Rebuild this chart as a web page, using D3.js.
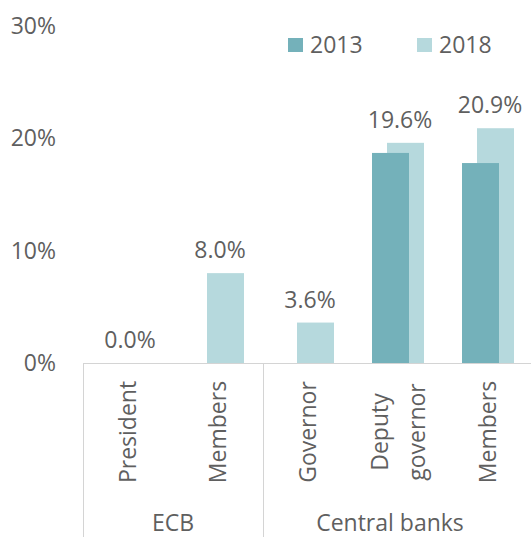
<!DOCTYPE html>
<html>
<head>
<meta charset="utf-8">
<script src="https://cdn.jsdelivr.net/npm/d3@7"></script>
<style>
  body { margin: 0; background: #fff; }
  text { font-family: "Open Sans", sans-serif; fill: #5f5f5f; }
</style>
</head>
<body>
<div id="chart"></div>
<script>
// data
const categories = ["President", "Members (ECB)", "Governor", "Deputy governor", "Members (CB)"];
const categoryLabels = [["President"], ["Members"], ["Governor"], ["Deputy", "governor"], ["Members"]];
const groups = ["ECB", "Central banks"];
const groupSizes = [2, 3];
const series = ["2013", "2018"];
const values2013 = [0, 0, 0, 18.7, 17.8];
const values2018 = [0.0, 8.0, 3.6, 19.6, 20.9];
const yTicks = [0, 10, 20, 30];

const width = 531, height = 537;
const margin = {top: 26, right: -2, bottom: 174, left: 83};
const colors = {"2013": "#74b1ba", "2018": "#b6d9dd"};
const fontSize = 23;

const svg = d3.select("#chart")
    .append("svg")
    .attr("width", width)
    .attr("height", height);

const x = d3.scaleBand()
    .domain(categories)
    .range([margin.left, width - margin.right])
    .padding(0);

const y = d3.scaleLinear()
    .domain([0, 30])
    .range([height - margin.bottom, margin.top]);

// bars overlap: 2013 in front, 2018 shifted right behind it
const offset = d3.scaleOrdinal().domain(series).range([-26, -11]);
const barWidth = 37;

const rows = categories.map((c, i) => ({cat: c, "2013": values2013[i], "2018": values2018[i]}));

// y axis
svg.append("g")
    .attr("transform", `translate(${margin.left},0)`)
    .call(d3.axisLeft(y).tickValues(yTicks).tickSize(0).tickPadding(27).tickFormat(d => d + "%"))
    .call(g => g.select(".domain").remove())
    .selectAll("text")
    .style("font-family", "'Open Sans', sans-serif")
    .style("font-size", fontSize + "px")
    .attr("fill", "#5f5f5f");

// bars: draw 2018 first so 2013 sits on top
["2018", "2013"].forEach(s => {
    svg.append("g").selectAll("rect")
        .data(rows)
        .join("rect")
        .attr("x", d => x(d.cat) + x.bandwidth() / 2 + offset(s))
        .attr("y", d => y(d[s]))
        .attr("width", barWidth)
        .attr("height", d => y(0) - y(d[s]))
        .attr("fill", colors[s]);
});

// value labels for 2018
svg.append("g").selectAll("text")
    .data(rows)
    .join("text")
    .attr("x", d => x(d.cat) + x.bandwidth() / 2 + 2)
    .attr("y", d => y(d["2018"]) - 15)
    .attr("text-anchor", "middle")
    .style("font-size", fontSize + "px")
    .text(d => d["2018"].toFixed(1) + "%");

// category axis frame
const lineColor = "#d4d4d4";
svg.append("line")
    .attr("x1", margin.left).attr("x2", width)
    .attr("y1", y(0) + 0.5).attr("y2", y(0) + 0.5)
    .attr("stroke", lineColor);

let start = 0;
const groupBounds = groupSizes.map(n => {
    const b = {from: categories[start], to: categories[start + n - 1]};
    start += n;
    return b;
});
svg.append("g").selectAll("line")
    .data(groupBounds)
    .join("line")
    .attr("x1", d => x(d.from) + 0.5).attr("x2", d => x(d.from) + 0.5)
    .attr("y1", y(0)).attr("y2", height)
    .attr("stroke", lineColor);

// rotated category labels
const labelMid = 432;
const lineGap = 37;
svg.append("g").selectAll("text")
    .data(rows)
    .join("text")
    .attr("transform", d => `translate(${x(d.cat) + x.bandwidth() / 2},${labelMid}) rotate(-90)`)
    .attr("text-anchor", "middle")
    .style("font-size", fontSize + "px")
    .each(function (d, i) {
        const lines = categoryLabels[i];
        d3.select(this).selectAll("tspan")
            .data(lines)
            .join("tspan")
            .attr("x", 0)
            .attr("y", (l, j) => (j - (lines.length - 1) / 2) * lineGap + 8)
            .text(l => l);
    });

// group labels
svg.append("g").selectAll("text")
    .data(groupBounds)
    .join("text")
    .attr("x", (d, i) => i === 0
        ? (x(d.from) + x(d.to) + x.bandwidth()) / 2
        : (x(d.from) + x(d.to) + x.bandwidth()) / 2 - 8)
    .attr("y", 531)
    .attr("text-anchor", "middle")
    .style("font-size", fontSize + "px")
    .text((d, i) => groups[i]);

// legend
const legend = svg.append("g").selectAll("g")
    .data(series)
    .join("g")
    .attr("transform", (d, i) => `translate(${288 + i * 129},38)`);
legend.append("rect")
    .attr("width", 15).attr("height", 14)
    .attr("fill", d => colors[d]);
legend.append("text")
    .attr("x", 22).attr("y", 14.5)
    .style("font-size", fontSize + "px")
    .text(d => d);
</script>
</body>
</html>
